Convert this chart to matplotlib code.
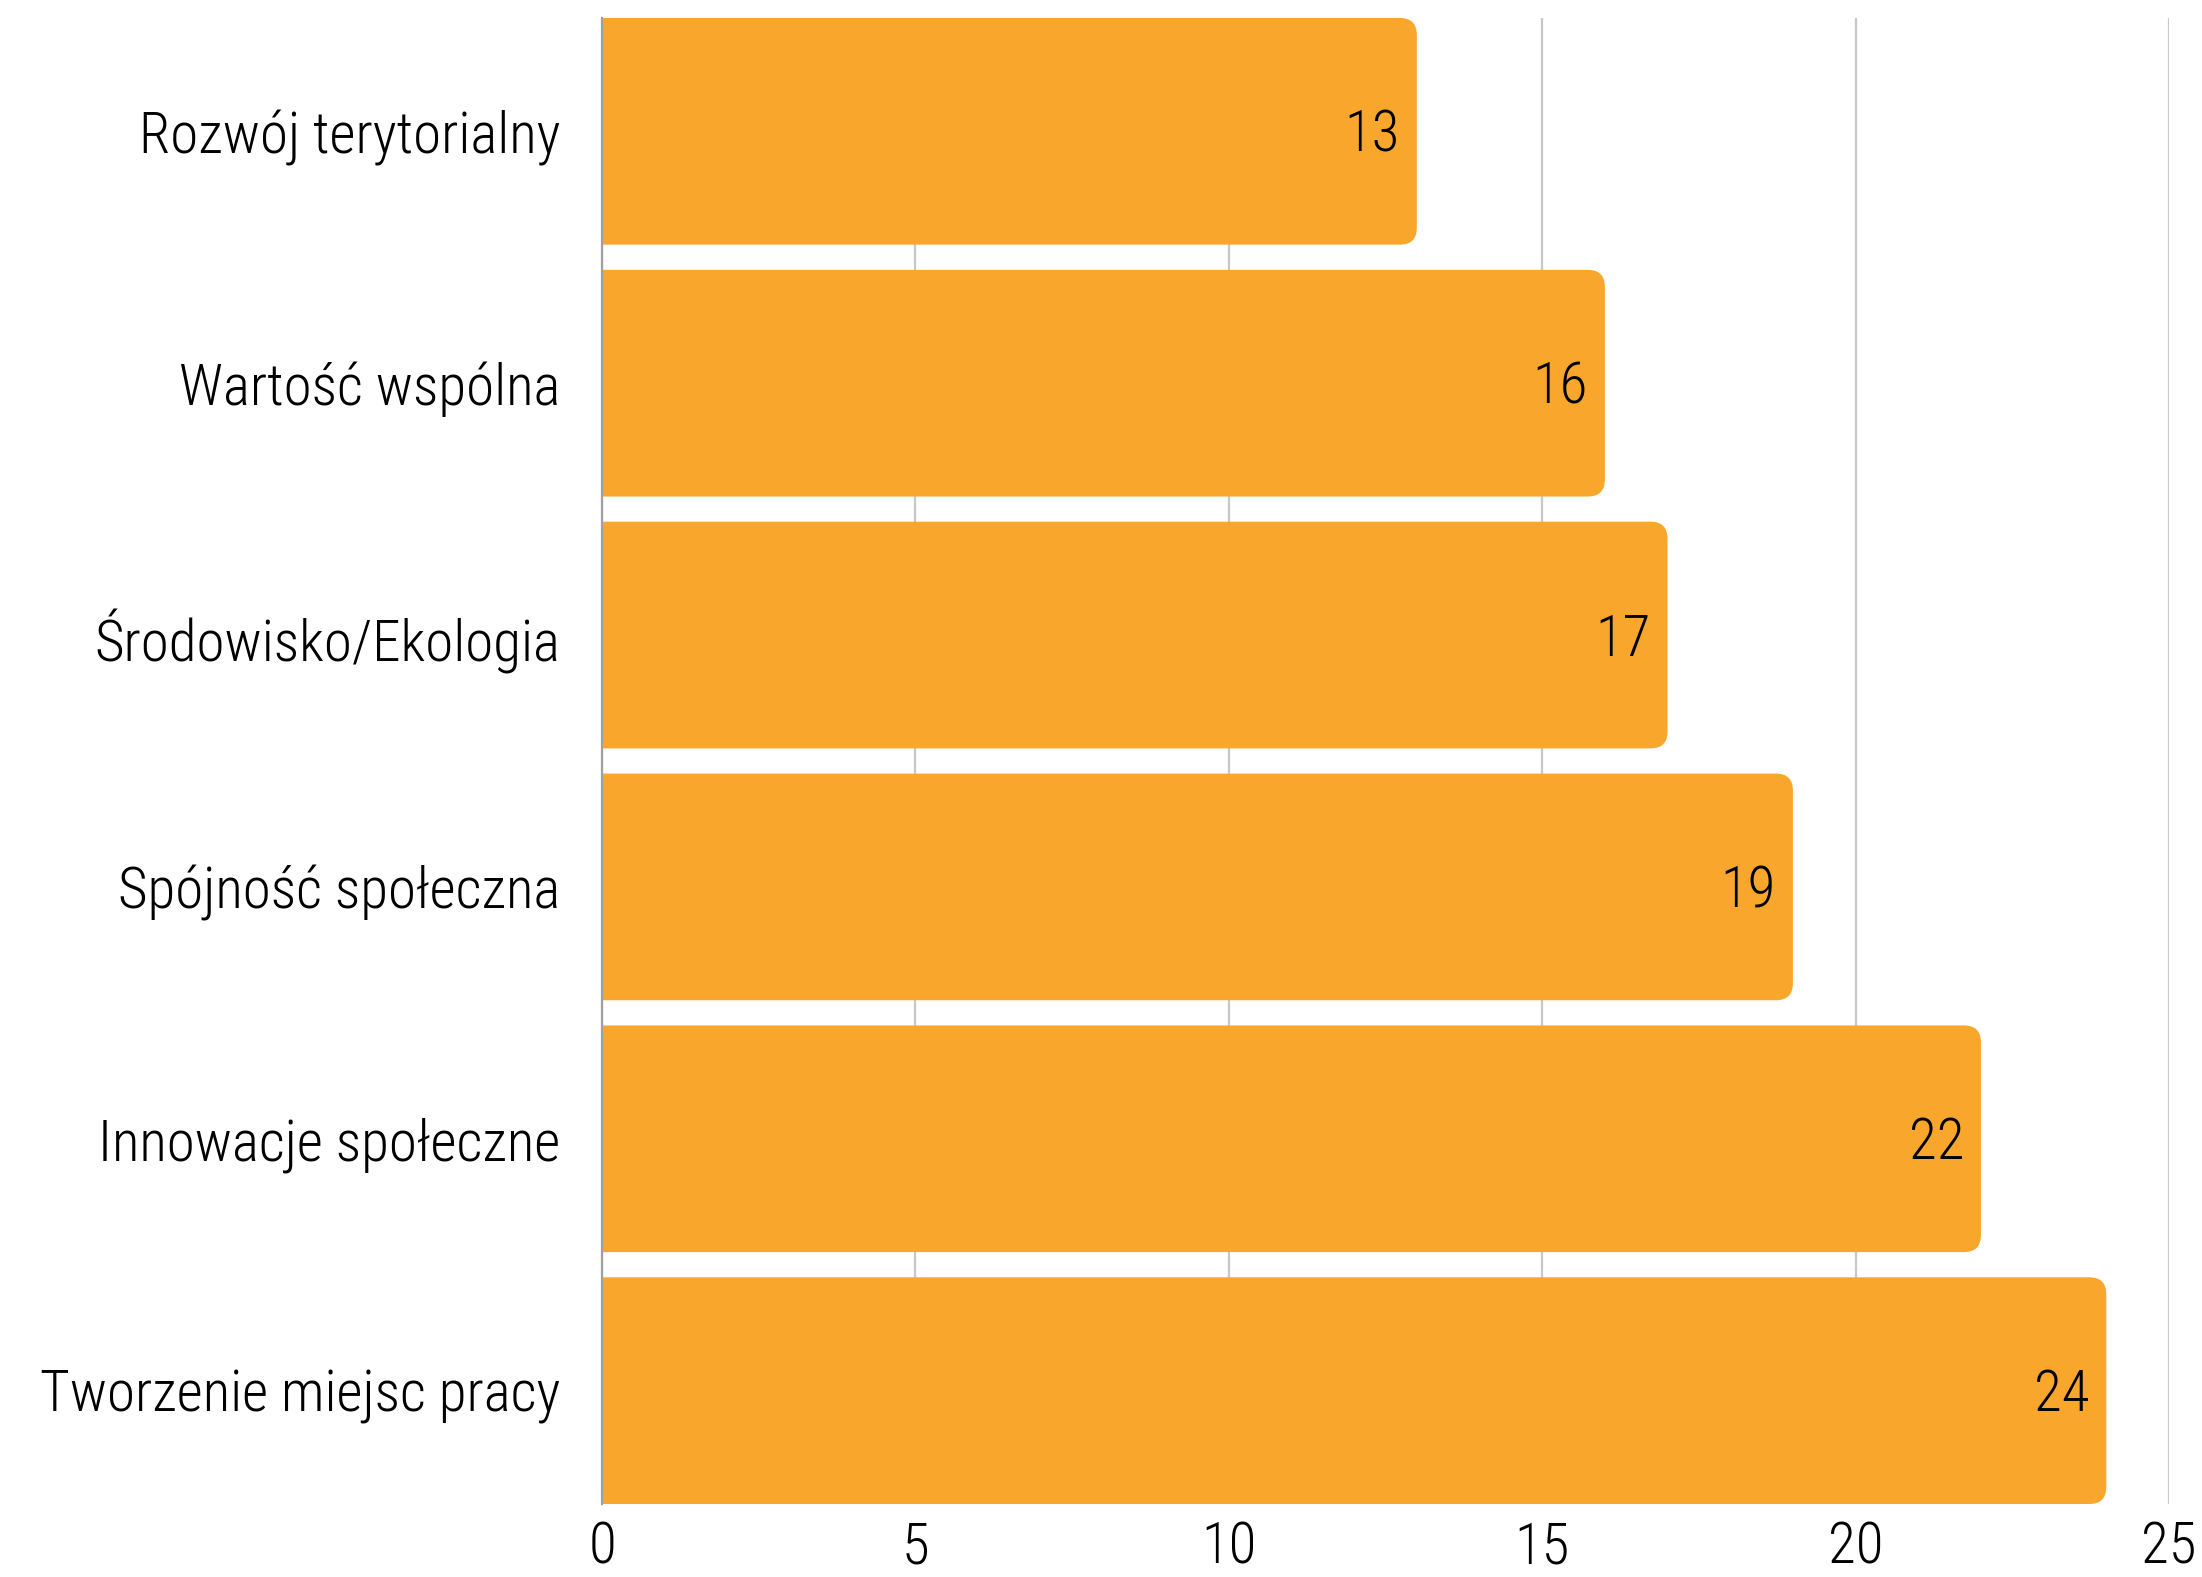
import matplotlib.pyplot as plt
from matplotlib import font_manager
from matplotlib.path import Path
from matplotlib.patches import PathPatch

# data (top to bottom as in the chart)
kategorie = ['Rozwój terytorialny', 'Wartość wspólna', 'Środowisko/Ekologia',
             'Spójność społeczna', 'Innowacje społeczne', 'Tworzenie miejsc pracy']
wartosci = [13, 16, 17, 19, 22, 24]
xticks = [0, 5, 10, 15, 20, 25]

kolor = '#F8A72C'

# pick a narrow font if one is installed
dostepne = {f.name for f in font_manager.fontManager.ttflist}
kandydaci = ['Liberation Sans Narrow', 'Roboto Condensed', 'Open Sans Condensed',
             'Noto Sans Condensed', 'DejaVu Sans Condensed']
czcionka = None
for k in kandydaci:
    if k in dostepne:
        czcionka = k
        break
stretch = 'normal'
if czcionka is None:
    czcionka = 'DejaVu Sans'
    if any(f.name == 'DejaVu Sans' and f.stretch == 'condensed' for f in font_manager.fontManager.ttflist):
        stretch = 'condensed'
plt.rcParams['font.family'] = [czcionka, 'DejaVu Sans']
plt.rcParams['font.stretch'] = stretch
plt.rcParams['font.weight'] = 'light'

fs = 20.5

fig = plt.figure(figsize=(11.01, 7.885), dpi=200)
ax = fig.add_axes([0.2734, 0.0463, 0.985 - 0.2734, 0.9886 - 0.0463])

pos = list(range(len(kategorie)))
bars = ax.barh(pos, wartosci, height=0.9, color=kolor, zorder=2)

# bars with rounded right corners only
rx, ry = 0.27, 0.068
for b in bars:
    x, y, w, h = b.get_x(), b.get_y(), b.get_width(), b.get_height()
    b.set_visible(False)
    verts = [(x, y), (x + w - rx, y), (x + w, y), (x + w, y + ry),
             (x + w, y + h - ry), (x + w, y + h), (x + w - rx, y + h),
             (x, y + h), (x, y)]
    codes = [Path.MOVETO, Path.LINETO, Path.CURVE3, Path.CURVE3,
             Path.LINETO, Path.CURVE3, Path.CURVE3, Path.LINETO, Path.CLOSEPOLY]
    ax.add_patch(PathPatch(Path(verts, codes), fc=kolor, ec='none', zorder=2))

for p, v in zip(pos, wartosci):
    ax.text(v - 0.27, p + 0.02, str(v), ha='right', va='center', fontsize=fs, color='black', zorder=3)

ax.set_xlim(0, 25)
ax.set_ylim(len(kategorie) - 0.5 - 0.05, -0.5 + 0.05)
ax.set_xticks(xticks)
ax.set_yticks(pos)
ax.set_yticklabels(kategorie, fontsize=fs)
ax.tick_params(axis='x', labelsize=fs, length=0, pad=6)
ax.tick_params(axis='y', length=0, pad=15)

ax.grid(axis='x', color='#C8C8C8', linewidth=0.8, zorder=0)
ax.set_axisbelow(True)
for s in ['top', 'right', 'bottom']:
    ax.spines[s].set_visible(False)
ax.spines['left'].set_color('#A0A0A0')
ax.spines['left'].set_linewidth(0.8)

fig.savefig('out.png', dpi=200)
